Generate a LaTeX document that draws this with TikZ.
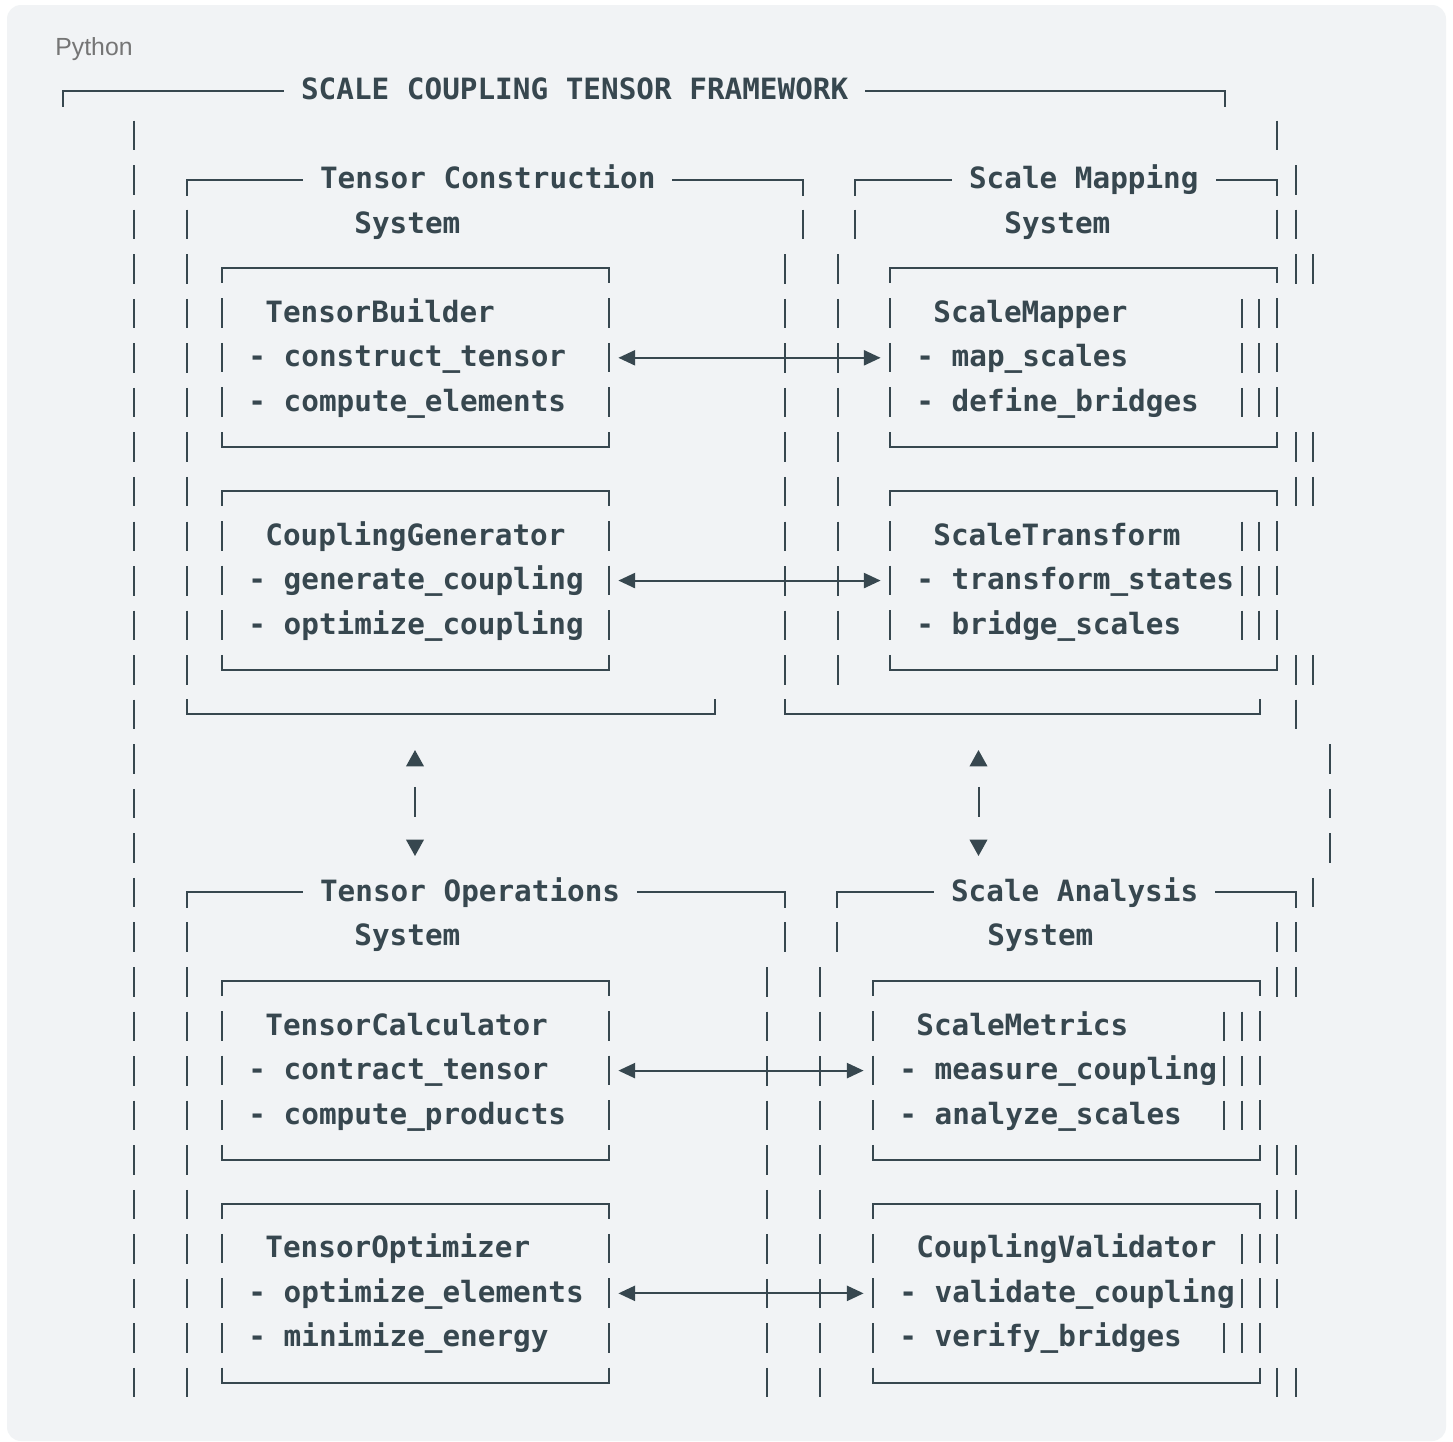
\documentclass[tikz,border=0pt]{standalone}
\usepackage{fontspec}
\usetikzlibrary{arrows.meta}
\newfontfamily\codefont{DejaVu Sans Mono}
\newfontfamily\tagfont{Liberation Sans}
\definecolor{ink}{HTML}{37474F}
\definecolor{paper}{HTML}{F1F3F5}
\definecolor{tagc}{HTML}{757575}
\tikzset{
    rule/.style={draw=ink, line width=1pt, line cap=rect},
    bars/.style={draw=ink, line width=1pt, dash pattern=on 14.75pt off 7.525pt},
    side/.style={bars, dash phase=7.25pt},
    code/.style={font={\codefont\bfseries\fontsize{14.66pt}{17pt}\selectfont}, text=ink,
        inner sep=0pt, text height=12pt, text depth=3pt, anchor=west},
    hdr/.style={code, inner xsep=8.825pt},
    cbox/.style={minimum width=193.5pt, minimum height=89.1pt, inner sep=0pt},
    link/.style={draw=ink, line width=1pt,
        {Triangle[length=8.4pt,width=7.6pt]}-{Triangle[length=8.4pt,width=7.6pt]},
        shorten <=4.5pt, shorten >=4.5pt},
    vlink/.style={draw=ink, line width=1pt,
        {Triangle[length=8.2pt,width=8.8pt]}-{Triangle[length=8.2pt,width=8.8pt]},
        dash pattern=on 15pt off 21pt, dash phase=25.5pt},
    declare function={ry(\k)=89+44.55*\k;},
}
\begin{document}
\begin{tikzpicture}[x=0.5pt,y=-0.5pt]
            \useasboundingbox (0,0) rectangle (1453,1442);
            \fill[white] (0,0) rectangle (1453,1442);
            \fill[paper, rounded corners=7pt] (7,5) rectangle (1446,1441);
            \node[font={\tagfont\fontsize{12.4pt}{14pt}\selectfont}, text=tagc, anchor=base west, inner sep=0pt] (lang) at (55,55) {Python};

            \node[hdr] (title) at (283,{ry(0)+1.5}) {SCALE COUPLING TENSOR FRAMEWORK};
            \draw[rule] (63,{ry(0)+16.5}) |- (title.west);
            \draw[rule] (title.east) -| (1225,{ry(0)+16.5});

            \node[hdr] (tcs) at (302,{ry(2)+1.5}) {Tensor Construction};
            \node[code] (tcs-sys) at (354,{ry(3)+1.5}) {System};
            \draw[rule] (187,{ry(2)+16.5}) |- (tcs.west);
            \draw[rule] (tcs.east) -| (803,{ry(2)+16.5});
            \draw[rule] (187,{ry(14)-13}) |- (715,{ry(14)+1.5}) -- (715,{ry(14)-13});

            \node[hdr] (sms) at (951,{ry(2)+1.5}) {Scale Mapping};
            \node[code] (sms-sys) at (1004,{ry(3)+1.5}) {System};
            \draw[rule] (855,{ry(2)+16.5}) |- (sms.west);
            \draw[rule] (sms.east) -| (1277,{ry(2)+16.5});
            \draw[rule] (785,{ry(14)-13}) |- (1260,{ry(14)+1.5}) -- (1260,{ry(14)-13});

            \node[hdr] (tos) at (302,{ry(18)+1.5}) {Tensor Operations};
            \node[code] (tos-sys) at (354,{ry(19)+1.5}) {System};
            \draw[rule] (187,{ry(18)+16.5}) |- (tos.west);
            \draw[rule] (tos.east) -| (785,{ry(18)+16.5});

            \node[hdr] (sas) at (933,{ry(18)+1.5}) {Scale Analysis};
            \node[code] (sas-sys) at (987,{ry(19)+1.5}) {System};
            \draw[rule] (837,{ry(18)+16.5}) |- (sas.west);
            \draw[rule] (sas.east) -| (1296,{ry(18)+16.5});

            \foreach \x/\a/\b in {134/1/29, 187/3/13, 803/3/3, 785/4/13, 855/3/3, 838/4/13,
                187/19/29, 785/19/19, 767/20/29, 837/19/19, 820/20/29,
                1277/1/1, 1277/3/3, 1277/19/20, 1277/24/27, 1277/29/29,
                1296/2/4, 1296/8/9, 1296/13/14, 1296/19/20, 1296/24/25, 1296/29/29,
                1313/4/4, 1313/8/9, 1313/13/13, 1313/18/18, 1330/15/17,
                1242/5/7, 1242/10/12, 1242/21/23, 1242/26/28,
                1259/5/7, 1259/10/12, 1224/21/23, 1224/28/28}
                \draw[bars] (\x,{ry(\a)-13}) -- (\x,{ry(\b)+16.5});

            \foreach \nm/\x/\row/\ttl/\ma/\mb in {
                tbuild/222/4/TensorBuilder/construct\_tensor/compute\_elements,
                cgen/222/9/CouplingGenerator/generate\_coupling/optimize\_coupling,
                smap/890/4/ScaleMapper/map\_scales/define\_bridges,
                strans/890/9/ScaleTransform/transform\_states/bridge\_scales,
                tcalc/222/20/TensorCalculator/contract\_tensor/compute\_products,
                topt/222/25/TensorOptimizer/optimize\_elements/minimize\_energy,
                smet/873/20/ScaleMetrics/measure\_coupling/analyze\_scales,
                cval/873/25/CouplingValidator/validate\_coupling/verify\_bridges}{
                \node[cbox] (\nm) at ({\x+193.5},{ry(\row+2)+1.5}) {};
                \draw[rule] (\nm.north west) -- (\nm.north east) (\nm.south west) -- (\nm.south east);
                \draw[side] (\nm.north west) -- (\nm.south west) (\nm.north east) -- (\nm.south east);
                \node[code] (\nm-t) at ({\x+43},{ry(\row+1)+1.5}) {\ttl};
                \node[code] (\nm-a) at ({\x+26},{ry(\row+2)+1.5}) {- \ma};
                \node[code] (\nm-b) at ({\x+26},{ry(\row+3)+1.5}) {- \mb};
            }

            \draw[link] (tbuild.east) -- (smap.west);
            \draw[link] (cgen.east) -- (strans.west);
            \draw[link] (tcalc.east) -- (smet.west);
            \draw[link] (topt.east) -- (cval.west);

            \coordinate (tcs-up) at (415,750);
            \coordinate (tos-dn) at (415,856);
            \coordinate (sms-up) at (978.5,750);
            \coordinate (sas-dn) at (978.5,856);
            \draw[vlink] (tcs-up) -- (tos-dn);
            \draw[vlink] (sms-up) -- (sas-dn);
\end{tikzpicture}
\end{document}
